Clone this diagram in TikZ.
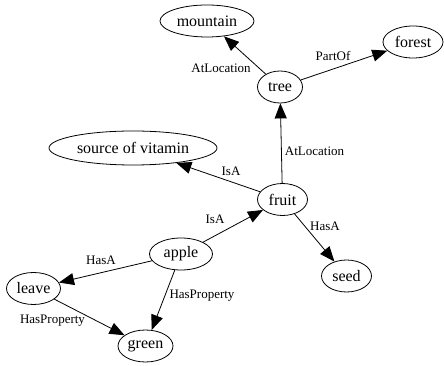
\documentclass[tikz,border=0pt]{standalone}
\usepackage{fontspec}
\setmainfont{Liberation Serif}
\usetikzlibrary{shapes.geometric,arrows.meta}
\tikzset{
  concept/.style={draw, ellipse, inner sep=0pt, minimum height=32pt, line width=0.8pt, font=\fontsize{16}{19}\selectfont},
  relation/.style={inner sep=1pt, font=\fontsize{13}{15}\selectfont},
  edge/.style={-{Triangle[length=15pt,width=12pt]}, line width=0.8pt},
}
\begin{document}
\begin{tikzpicture}
\useasboundingbox (0pt,0pt) rectangle (444pt,366pt);

% ノード
\node[concept, minimum width=94pt] (mountain) at (207pt,345pt) {mountain};
\node[concept, minimum width=60pt] (forest) at (413pt,324pt) {forest};
\node[concept, minimum width=45pt] (tree) at (280pt,279pt) {tree};
\node[concept, minimum width=168pt, minimum height=34pt] (vitamin) at (133pt,218pt) {source of vitamin};
\node[concept, minimum width=50pt] (fruit) at (282.5pt,166.5pt) {fruit};
\node[concept, minimum width=63pt] (apple) at (181pt,112pt) {apple};
\node[concept, minimum width=50pt] (seed) at (346.5pt,90pt) {seed};
\node[concept, minimum width=54pt] (leave) at (33.5pt,77.5pt) {leave};
\node[concept, minimum width=55pt] (green) at (145.5pt,20pt) {green};

% 矢印
\draw[edge] (tree)--(mountain);
\draw[edge] (tree)--(forest);
\draw[edge] (fruit)--(tree);
\draw[edge] (fruit)--(vitamin);
\draw[edge] (fruit)--(seed);
\draw[edge] (apple)--(fruit);
\draw[edge] (apple)--(leave);
\draw[edge] (apple)--(green);
\draw[edge] (leave)--(green);

% ラベル
\node[relation] (treemountain) at (221pt,298pt) {AtLocation};
\node[relation] (treeforest) at (333pt,310pt) {PartOf};
\node[relation] (fruittree) at (314.5pt,215pt) {AtLocation};
\node[relation] (fruitvitamin) at (231pt,195pt) {IsA};
\node[relation] (fruitseed) at (325pt,140pt) {HasA};
\node[relation] (applefruit) at (215pt,147pt) {IsA};
\node[relation] (appleleave) at (101pt,106pt) {HasA};
\node[relation] (applegreen) at (202pt,70pt) {HasProperty};
\node[relation] (leavegreen) at (52.5pt,45pt) {HasProperty};
\end{tikzpicture}
\end{document}
